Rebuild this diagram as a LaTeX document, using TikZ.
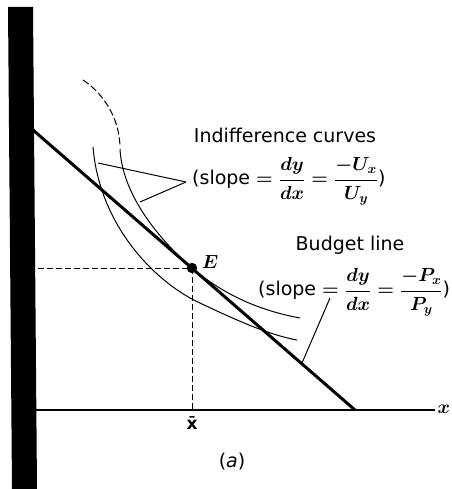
\RequirePackage{fix-cm}
\documentclass[tikz,border=0pt]{standalone}
\usepackage{amsmath}
\usepackage{fontspec}
\setsansfont{DejaVu Sans}
\newcommand{\bigmath}[1]{{\fontsize{19}{22}\selectfont\boldmath$#1$}}
\begin{document}
\begin{tikzpicture}[x=1pt,y=-1pt,
  lbl/.style={inner sep=0pt,font=\sffamily\fontsize{19}{22}\selectfont},
  thin curve/.style={line width=1pt},
  budget/.style={line width=3pt},
  guide/.style={line width=0.9pt,dash pattern=on 6pt off 3pt},
  pointer/.style={line width=1pt}]
\useasboundingbox (0,0) rectangle (451,489);
% scanned left edge (y axis)
\fill[black] (8,7) -- (33,7) -- (37,489) -- (12,489) -- cycle;
% x axis
\coordinate (O) at (33,410);
\coordinate (xend) at (435,410);
\draw[line width=1.5pt] (O) -- (xend);
\node[inner sep=0pt] (xlab) at (444,409) {\bigmath{x}};
% budget line
\coordinate (B1) at (33,130);
\coordinate (B2) at (355,410);
\draw[budget] (B1) -- (B2);
% equilibrium
\coordinate (E) at (192,268);
\coordinate (Ey) at (38,268);
\coordinate (Ex) at (192,410);
\draw[guide] (Ey) -- (E);
\draw[guide] (E) -- (Ex);
\fill (E) circle (5.2pt);
\node[inner sep=0pt] (Elab) at (210,262) {\bigmath{E}};
\node[inner sep=0pt,font=\sffamily\bfseries\fontsize{17}{20}\selectfont,anchor=north] (xbar) at (192,416) {x\char"0304};
\node[inner sep=0pt,font=\sffamily\fontsize{19}{22}\selectfont] (alab) at (232,462) {(\textit{a})};
% outer indifference curve (tangent)
\draw[thin curve,dash pattern=on 7pt off 3pt] (83,80) .. controls (104,94) and (119,118) .. (120,146);
\draw[thin curve] (120,149) .. controls (122,190) and (152,233) .. (192,268)
   .. controls (225,296) and (262,311) .. (300,318);
% inner indifference curve
\draw[thin curve] (93,147) .. controls (100,230) and (160,285) .. (200,303)
   .. controls (240,322) and (270,335) .. (297,340);
% labels
\node[lbl] (ic) at (285,135) {Indifference curves};
\node[lbl,anchor=west] (ics) at (192,181) {(slope \bigmath{=\dfrac{dy}{dx}=\dfrac{-U_x}{U_y}})};
\node[lbl] (bl) at (350,245) {Budget line};
\node[lbl,anchor=west] (bls) at (258,292) {(slope \bigmath{=\dfrac{dy}{dx}=\dfrac{-P_x}{P_y}})};
% pointers
\coordinate (icp) at (186,182);
\coordinate (ic1) at (98,163);
\coordinate (ic2) at (140,202);
\draw[pointer] (icp) -- (ic1);
\draw[pointer] (icp) -- (ic2);
\coordinate (blp) at (330,298);
\coordinate (bl1) at (302,363);
\draw[pointer] (blp) -- (bl1);
\end{tikzpicture}
\end{document}
